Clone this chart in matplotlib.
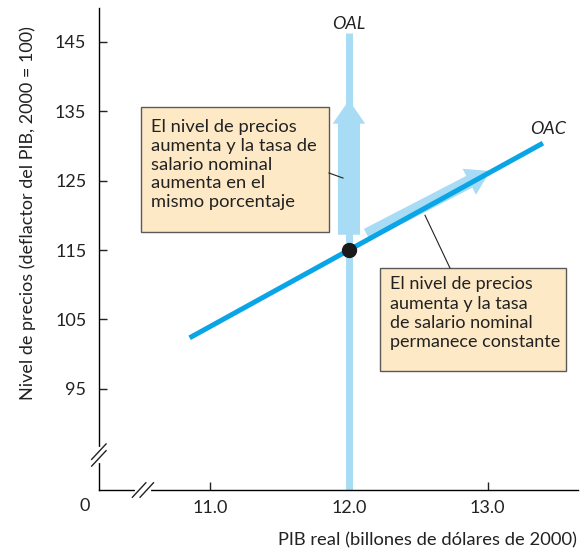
import matplotlib
matplotlib.use("Agg")
import matplotlib.pyplot as plt
from matplotlib.patches import Rectangle, FancyArrow, FancyArrowPatch

plt.rcParams['font.family'] = ['Lato', 'DejaVu Sans']

# data
x_ticks = [11.0, 12.0, 13.0]
y_ticks = [95, 105, 115, 125, 135, 145]
oac_x = [10.85, 13.40]
oac_y = [102.35, 130.4]
oal_x = [12.0, 12.0]
oal_y = [80.4, 146.3]
eq_x, eq_y = 12.0, 115.0

dark_blue = '#0aa5e6'
light_blue = '#a8dcf5'
box_fill = '#fde9c6'
txt = '#222222'

fig = plt.figure(figsize=(5.85, 5.53), dpi=100)
ax = fig.add_axes([0.169, 0.1139, 0.819, 0.8716])
ax.set_xlim(10.195, 13.653)
ax.set_ylim(80.42, 149.87)

for s in ['top', 'right']:
    ax.spines[s].set_visible(False)
for s in ['left', 'bottom']:
    ax.spines[s].set_linewidth(1.0)

ax.set_xticks(x_ticks)
ax.set_xticklabels([f'{v:.1f}' for v in x_ticks])
ax.set_yticks(y_ticks)
ax.tick_params(direction='in', length=6, width=1.0, labelsize=13, colors=txt)
ax.tick_params(axis='y', pad=9)
ax.tick_params(axis='x', pad=7)

# axis breaks
by = 0.0726
ax.plot([0, 0], [by - 0.012, by + 0.012], transform=ax.transAxes, color='white',
        lw=3, clip_on=False, zorder=5)
for d in (-0.007, 0.007):
    ax.plot([-0.015, 0.015], [by + d - 0.016, by + d + 0.016], transform=ax.transAxes,
            color=txt, lw=1.0, clip_on=False, zorder=6)
bx = 0.092
ax.plot([bx - 0.012, bx + 0.012], [0, 0], transform=ax.transAxes, color='white',
        lw=3, clip_on=False, zorder=5)
for d in (-0.008, 0.008):
    ax.plot([bx + d - 0.014, bx + d + 0.014], [-0.015, 0.015], transform=ax.transAxes,
            color=txt, lw=1.0, clip_on=False, zorder=6)

ax.text(-0.018, -0.033, '0', transform=ax.transAxes, ha='right', va='center',
        fontsize=13, color=txt)

# OAL line and shift arrow
ax.plot(oal_x, oal_y, color=light_blue, lw=5, solid_capstyle='butt', zorder=2, clip_on=False)
ax.add_patch(FancyArrow(12.0, 117.2, 0, 19.4, width=0.159, head_width=0.235,
                        head_length=3.4, length_includes_head=True,
                        color=light_blue, lw=0, zorder=2))

# OAC shift arrow
ax.add_patch(FancyArrowPatch((12.13, 117.2), (13.02, 126.4),
                             arrowstyle='simple,head_width=21,head_length=17,tail_width=9.5',
                             shrinkA=0, shrinkB=0, color=light_blue, lw=0, zorder=2))

# OAC line
ax.plot(oac_x, oac_y, color=dark_blue, lw=3.6, solid_capstyle='butt', zorder=3)
ax.plot([eq_x], [eq_y], 'o', color='#1a1a1a', ms=10, zorder=4)

ax.text(12.0, 147.6, 'OAL', ha='center', va='center', fontsize=13, style='italic',
        color=txt)
ax.text(13.31, 132.5, 'OAC', ha='left', va='center', fontsize=13, style='italic',
        color=txt)

# text boxes
ax.add_patch(Rectangle((10.498, 117.6), 11.856 - 10.498, 135.6 - 117.6,
                       facecolor=box_fill, edgecolor='#5a5a5a', lw=1.0, zorder=3))
ax.text(10.570, 133.9, 'El nivel de precios\naumenta y la tasa de\nsalario nominal\n'
        'aumenta en el\nmismo porcentaje', ha='left', va='top', fontsize=13.2,
        linespacing=1.22, color=txt, zorder=4)
ax.plot([11.856, 11.957], [126.1, 125.37], color=txt, lw=0.8, zorder=3)

ax.add_patch(Rectangle((12.224, 97.57), 13.567 - 12.224, 112.41 - 97.57,
                       facecolor=box_fill, edgecolor='#5a5a5a', lw=1.0, zorder=3))
ax.text(12.296, 111.2, 'El nivel de precios\naumenta y la tasa\nde salario nominal\n'
        'permanece constante', ha='left', va='top', fontsize=13.0,
        linespacing=1.24, color=txt, zorder=4)
ax.plot([12.729, 12.549], [112.41, 120.0], color=txt, lw=0.8, zorder=3)

# axis labels
fig.text(0.986, 0.022, 'PIB real (billones de dólares de 2000)', ha='right', va='center',
         fontsize=13.2, color=txt)
fig.text(0.047, 0.615, 'Nivel de precios (deflactor del PIB, 2000 = 100)', ha='center',
         va='center', rotation=90, fontsize=13, color=txt)

fig.savefig('out.png', dpi=100)
